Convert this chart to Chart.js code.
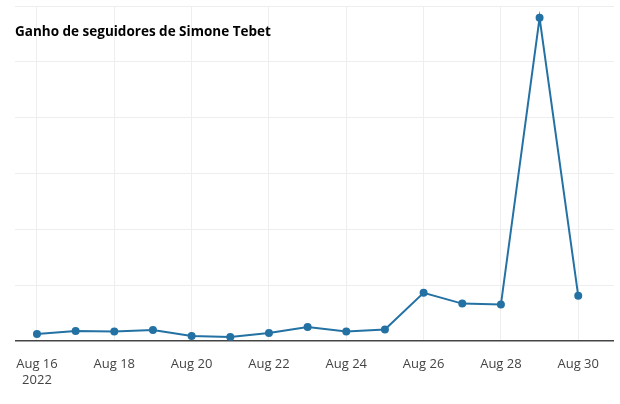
<!DOCTYPE html>
<html><head><meta charset="utf-8">
<script src="https://cdn.jsdelivr.net/npm/chart.js@4"></script>
<style>html,body{margin:0;padding:0;background:#fff}#w{position:relative;width:620px;height:404px}
#t{position:absolute;left:15px;top:22px;font:bold 13.5px "Open Sans",sans-serif;color:#000}</style>
</head><body><div id="w"><canvas id="c" width="620" height="404"></canvas><div id="t">Ganho de seguidores de Simone Tebet</div></div>
<script>
const dayIndex=[0,1,2,3,4,5,6,7,8,9,10,11,12,13,14];
const tickLabels={0:["Aug 16","2022"],2:"Aug 18",4:"Aug 20",6:"Aug 22",8:"Aug 24",10:"Aug 26",12:"Aug 28",14:"Aug 30"};
const gains=[7,10,9.5,11,5,4,8,14,9.5,11.5,49,38,37,330,46];
new Chart(document.getElementById('c'),{type:'line',
data:{datasets:[{data:dayIndex.map((d,i)=>({x:d,y:gains[i]})),borderColor:'#2471a3',backgroundColor:'#2471a3',borderWidth:2,pointRadius:3,tension:0}]},
options:{responsive:false,animation:false,layout:{padding:{top:2,bottom:0,left:0,right:0}},
plugins:{legend:{display:false},tooltip:{enabled:false}},
scales:{x:{type:'linear',min:-0.575,max:14.925,afterBuildTicks:a=>{a.ticks=[0,2,4,6,8,10,12,14].map(v=>({value:v}));},
ticks:{callback:v=>tickLabels[v],color:'#444',font:{family:'"Open Sans"',size:13},maxRotation:0,autoSkip:false,padding:16},
grid:{color:'#eeeeee',drawTicks:false},border:{display:false}},
y:{min:0,max:342,afterBuildTicks:a=>{a.ticks=[0,57,114,171,228,285,342].map(v=>({value:v}));},
ticks:{display:false},grid:{color:c=>c.tick&&c.tick.value===0?'#444':'#eeeeee',lineWidth:c=>c.tick&&c.tick.value===0?1.5:1,drawTicks:false},border:{display:false}}}}});
</script></body></html>
